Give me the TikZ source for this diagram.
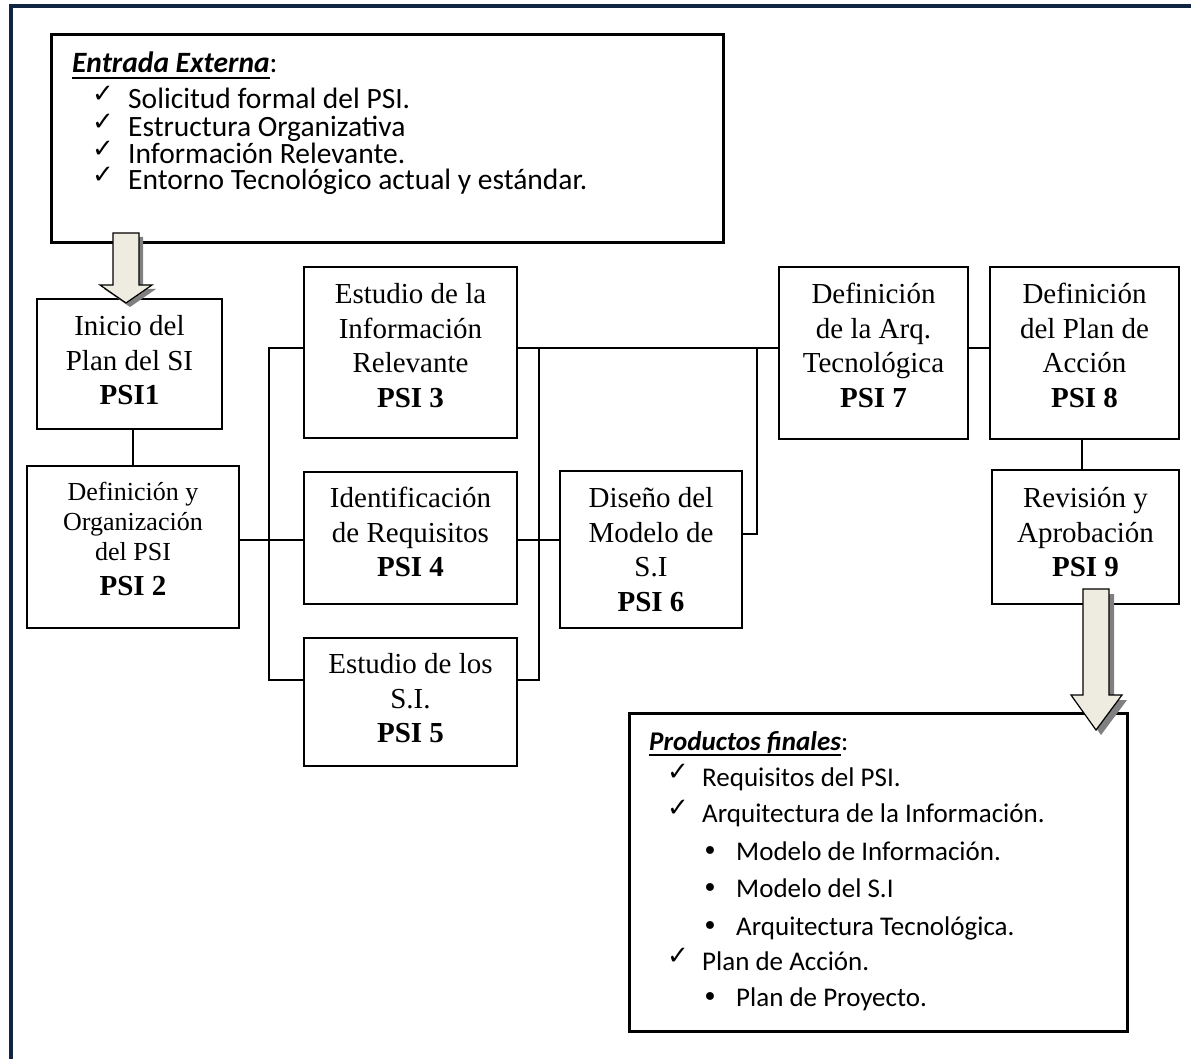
\documentclass[tikz,border=0pt]{standalone}
\usepackage{fontspec}
\setmainfont{Liberation Serif}
\newfontfamily\calfont{Carlito}
\newfontfamily\dejavu{DejaVu Sans}
\newcommand\psifont{\fontsize{29}{34.5}\selectfont}
\newcommand\listfont{\calfont\fontsize{29.5}{34}\selectfont}
\newcommand\prodfont{\calfont\fontsize{27}{34}\selectfont}
\newcommand\pbx[2]{\parbox[t]{#1}{\centering #2}}
\newsavebox\ulbox
\newcommand\myul[1]{\sbox\ulbox{#1}\rlap{\rule[-6pt]{\wd\ulbox}{2pt}}\usebox\ulbox}
\definecolor{frame}{HTML}{0F2541}
\definecolor{beige}{HTML}{EEECE1}
\definecolor{shadowgray}{HTML}{808080}
\begin{document}
\begin{tikzpicture}[x=1pt,y=-1pt,
  psi/.style={draw, line width=1.8pt, inner sep=0pt, anchor=north, font=\psifont},
  bigbox/.style={draw, line width=3.3pt, inner sep=0pt, anchor=north west},
  conn/.style={line width=1.8pt},
  lst/.style={anchor=base west, inner sep=0pt, font=\listfont},
  prd/.style={anchor=base west, inner sep=0pt, font=\prodfont},
  chk/.style={anchor=base west, inner sep=0pt, yshift=6pt, font=\dejavu\fontsize{26}{26}\selectfont},
  bul/.style={anchor=base west, inner sep=0pt, font=\dejavu\fontsize{27}{27}\selectfont},
  blockarrow/.style={fill=beige, draw=black, line width=1.2pt, line join=miter},
  arrowshadow/.style={fill=shadowgray, draw=none}]
\useasboundingbox (0,0) rectangle (1191,1059);
\fill[white] (0,0) rectangle (1191,1059);
% outer frame (top and left)
\draw[frame, line width=4pt, line join=miter] (11,1059) -- (11,6) -- (1191,6);

% input box
\node[bigbox, minimum width=672pt, minimum height=208pt] (entrada) at (50,33) {};
\node[lst] (e0) at (72,73) {\myul{\textbf{\textit{Entrada Externa}}}:};
\node[chk] (e1c) at (92,109) {✓};
\node[lst] (e1) at (128,109) {Solicitud formal del PSI.};
\node[chk] (e2c) at (92,136.5) {✓};
\node[lst] (e2) at (128,136.5) {Estructura Organizativa};
\node[chk] (e3c) at (92,163.3) {✓};
\node[lst] (e3) at (128,163.3) {Información Relevante.};
\node[chk] (e4c) at (92,190) {✓};
\node[lst] (e4) at (128,190) {Entorno Tecnológico actual y estándar.};

% process boxes
\node[psi, minimum width=185pt, text height=37pt, text depth=93pt] (PSI1) at (129.5,298)
  {\pbx{181pt}{Inicio del\\Plan del SI\\\textbf{PSI1}}};
\node[psi, minimum width=212pt, text height=35pt, text depth=127pt, font=\fontsize{26}{30}\selectfont] (PSI2) at (133,465)
  {\pbx{208pt}{Definición y\\Organización\\del PSI\\[5pt]{\fontsize{29}{30}\selectfont\bfseries PSI 2}}};
\node[psi, minimum width=213pt, text height=37pt, text depth=134pt] (PSI3) at (410.5,266)
  {\pbx{209pt}{Estudio de la\\Información\\Relevante\\\textbf{PSI 3}}};
\node[psi, minimum width=213pt, text height=36pt, text depth=96pt] (PSI4) at (410.5,471)
  {\pbx{209pt}{Identificación\\de Requisitos\\\textbf{PSI 4}}};
\node[psi, minimum width=213pt, text height=36pt, text depth=92pt] (PSI5) at (410.5,637)
  {\pbx{209pt}{Estudio de los\\S.I.\\\textbf{PSI 5}}};
\node[psi, minimum width=182pt, text height=37pt, text depth=120pt] (PSI6) at (651,470)
  {\pbx{178pt}{Diseño del\\Modelo de\\S.I\\\textbf{PSI 6}}};
\node[psi, minimum width=189pt, text height=37pt, text depth=135pt] (PSI7) at (873.5,266)
  {\pbx{185pt}{Definición\\de la Arq.\\Tecnológica\\\textbf{PSI 7}}};
\node[psi, minimum width=189pt, text height=37pt, text depth=135pt] (PSI8) at (1084.5,266)
  {\pbx{185pt}{Definición\\del Plan de\\Acción\\\textbf{PSI 8}}};
\node[psi, minimum width=187pt, text height=38pt, text depth=96pt] (PSI9) at (1085.5,469)
  {\pbx{183pt}{Revisión y\\Aprobación\\\textbf{PSI 9}}};

% junction coordinates
\coordinate (bl3) at (269,348);
\coordinate (bl5) at (269,680);
\coordinate (jl4) at (269,540);
\coordinate (br3) at (539,348);
\coordinate (br5) at (539,680);
\coordinate (r6) at (757,534);
\coordinate (c89) at (1082,0);

% connectors
\draw[conn] (PSI2.north) -- (PSI2.north |- PSI1.south);
\draw[conn] (PSI2.east |- jl4) -- (PSI4.west |- jl4);
\draw[conn] (PSI3.west |- bl3) -- (bl3) -- (bl5) -- (PSI5.west |- bl5);
\draw[conn] (PSI3.east |- br3) -- (PSI7.west |- br3);
\draw[conn] (br3) -- (br5) -- (PSI5.east |- br5);
\draw[conn] (PSI4.east |- jl4) -- (PSI6.west |- jl4);
\draw[conn] (PSI6.east |- r6) -- (r6) -- (r6 |- br3);
\draw[conn] (PSI7.east |- br3) -- (PSI8.west |- br3);
\draw[conn] (PSI8.south -| c89) -- (PSI9.north -| c89);

% output box
\node[bigbox, minimum width=498pt, minimum height=318pt] (productos) at (628,712) {};
\node[prd] (p0) at (649,750) {\myul{\textbf{\textit{Productos finales}}}:};
\node[chk] (p1c) at (667,786.7) {✓};
\node[prd] (p1) at (702,786.7) {Requisitos del PSI.};
\node[chk] (p2c) at (667,822.7) {✓};
\node[prd] (p2) at (702,822.7) {Arquitectura de la Información.};
\node[bul] (p3b) at (702,860) {•};
\node[prd] (p3) at (736,860) {Modelo de Información.};
\node[bul] (p4b) at (702,897) {•};
\node[prd] (p4) at (736,897) {Modelo del S.I};
\node[bul] (p5b) at (702,935) {•};
\node[prd] (p5) at (736,935) {Arquitectura Tecnológica.};
\node[chk] (p6c) at (667,970.7) {✓};
\node[prd] (p6) at (702,970.7) {Plan de Acción.};
\node[bul] (p7b) at (702,1006.7) {•};
\node[prd] (p7) at (736,1006.7) {Plan de Proyecto.};

% block arrows (with shadow)
\fill[arrowshadow] (117,237) -- (143,237) -- (143,289) -- (156,289) -- (130,307) -- (104,289) -- (117,289) -- cycle;
\draw[blockarrow] (113,233) -- (139,233) -- (139,285) -- (152,285) -- (126,303) -- (100,285) -- (113,285) -- cycle;
\fill[arrowshadow] (1088,594) -- (1114,594) -- (1114,700) -- (1127,700) -- (1101,735) -- (1076,700) -- (1088,700) -- cycle;
\draw[blockarrow] (1083,589) -- (1109,589) -- (1109,695) -- (1122,695) -- (1096,730) -- (1071,695) -- (1083,695) -- cycle;
\end{tikzpicture}
\end{document}
